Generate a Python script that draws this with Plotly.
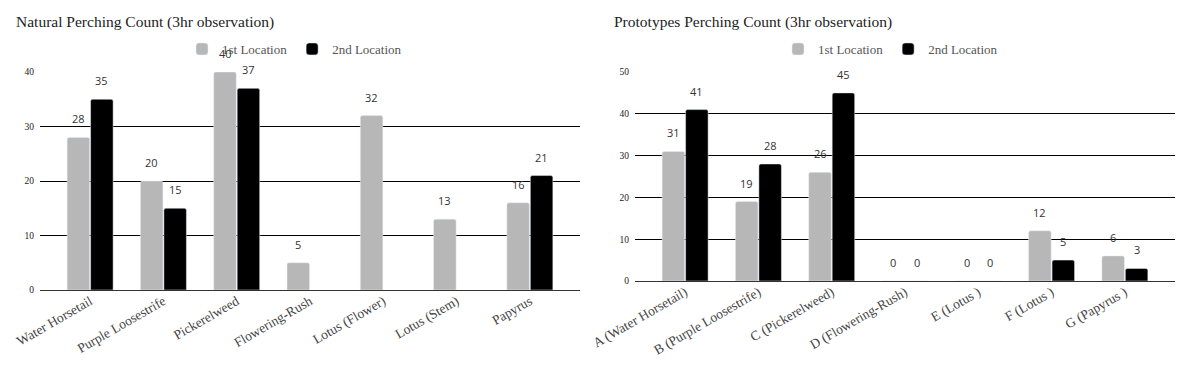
import plotly.graph_objects as go

# ---- data ----
natural_categories = ["Water Horsetail", "Purple Loosestrife", "Pickerelweed", "Flowering-Rush",
                      "Lotus (Flower)", "Lotus (Stem)", "Papyrus"]
natural_loc1 = [28, 20, 40, 5, 32, 13, 16]
natural_loc2 = [35, 15, 37, None, None, None, 21]

proto_categories = ["A (Water Horsetail)", "B (Purple Loosestrife)", "C (Pickerelweed)",
                    "D (Flowering-Rush)", "E (Lotus )", "F (Lotus )", "G (Papyrus )"]
proto_loc1 = [31, 19, 26, 0, 0, 12, 6]
proto_loc2 = [41, 28, 45, 0, 0, 5, 3]

series_names = ["1st Location", "2nd Location"]
left_title = "Natural Perching Count (3hr observation)"
right_title = "Prototypes Perching Count (3hr observation)"

GRAY = "#b7b7b7"
BLACK = "#000000"
SERIF = "Liberation Serif, DejaVu Serif, serif"
SANS = "Open Sans, Roboto, sans-serif"

# page has an 8px body margin; figure fills the remainder of the window
OFF = 8
W, H = 1192 - OFF, 366 - OFF


def px_x(p):
    return (p - OFF) / W


def px_y(p):
    return 1 - (p - OFF) / H


fig = go.Figure()

# left chart
fig.add_trace(go.Bar(x=natural_categories, y=natural_loc1, name=series_names[0],
                     marker=dict(color=GRAY, cornerradius=2), xaxis="x", yaxis="y",
                     legend="legend"))
fig.add_trace(go.Bar(x=natural_categories, y=natural_loc2, name=series_names[1],
                     marker=dict(color=BLACK, cornerradius=2), xaxis="x", yaxis="y",
                     legend="legend"))
# right chart
fig.add_trace(go.Bar(x=proto_categories, y=proto_loc1, name=series_names[0],
                     marker=dict(color=GRAY, cornerradius=2), xaxis="x2", yaxis="y2",
                     legend="legend2"))
fig.add_trace(go.Bar(x=proto_categories, y=proto_loc2, name=series_names[1],
                     marker=dict(color=BLACK, cornerradius=2), xaxis="x2", yaxis="y2",
                     legend="legend2"))

annotations = []
for cats, s1, s2, xr, yr in [(natural_categories, natural_loc1, natural_loc2, "x", "y"),
                             (proto_categories, proto_loc1, proto_loc2, "x2", "y2")]:
    for vals, shift in [(s1, -11.7), (s2, 11.7)]:
        for c, v in zip(cats, vals):
            if v is None:
                continue
            annotations.append(dict(x=c, y=v, xref=xr, yref=yr, text=str(v), showarrow=False,
                                    xshift=shift, yshift=9, yanchor="bottom",
                                    font=dict(family=SANS, size=11, color="#333333")))

annotations.append(dict(x=px_x(14), y=px_y(22), xref="paper", yref="paper", text=left_title,
                        showarrow=False, xanchor="left", yanchor="middle",
                        font=dict(family=SERIF, size=15.5, color="#222222")))
annotations.append(dict(x=px_x(612), y=px_y(22), xref="paper", yref="paper", text=right_title,
                        showarrow=False, xanchor="left", yanchor="middle",
                        font=dict(family=SERIF, size=15.5, color="#222222")))

xr_ = [-0.684, 6.684]
common_x = dict(type="category", range=xr_, tickangle=-30, showgrid=False, showline=False,
                zeroline=False, ticks="", automargin=False,
                tickfont=dict(family=SERIF, size=13.5, color="#444444"))
common_y = dict(showgrid=True, gridcolor="#000000", gridwidth=1, zeroline=True,
                zerolinecolor="#333333", zerolinewidth=1, ticks="", automargin=False,
                ticklabelstandoff=5,
                tickfont=dict(family=SERIF, size=9.5, color="#222222"), showline=False)

fig.update_layout(
    width=W, height=H,
    margin=dict(l=0, r=0, t=0, b=0),
    paper_bgcolor="white", plot_bgcolor="white",
    barmode="group", bargap=0.36, bargroupgap=0.04,
    xaxis=dict(domain=[px_x(40), px_x(580)], anchor="y", **common_x),
    yaxis=dict(domain=[px_y(290), px_y(72)], anchor="x", range=[0, 40], dtick=10, **common_y),
    xaxis2=dict(domain=[px_x(635), px_x(1175)], anchor="y2", **common_x),
    yaxis2=dict(domain=[px_y(281), px_y(72)], anchor="x2", range=[0, 50], dtick=10, **common_y),
    legend=dict(orientation="h", x=px_x(182), y=px_y(49), xanchor="left", yanchor="middle",
                itemwidth=30, bgcolor="rgba(0,0,0,0)",
                font=dict(family=SERIF, size=13, color="#555555")),
    legend2=dict(orientation="h", x=px_x(778), y=px_y(49), xanchor="left", yanchor="middle",
                 itemwidth=30, bgcolor="rgba(0,0,0,0)",
                 font=dict(family=SERIF, size=13, color="#555555")),
    annotations=annotations,
    showlegend=True,
)

fig.write_html("out.html")
